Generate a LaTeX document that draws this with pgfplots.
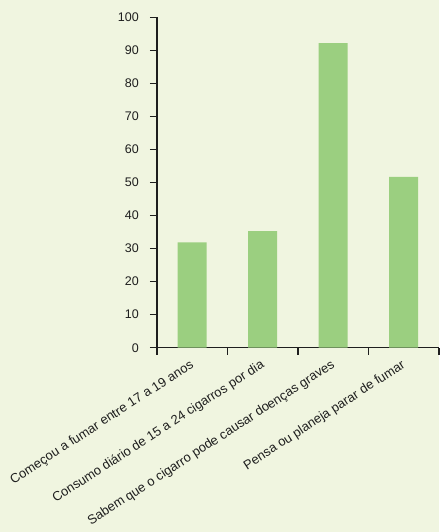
\documentclass[border=0pt]{standalone}
\usepackage{pgfplots}
\pgfplotsset{compat=1.18}
\usepackage{fontspec}
\setmainfont{Liberation Sans}
\definecolor{bg}{RGB}{240,245,224}
\definecolor{barc}{RGB}{155,207,128}
\definecolor{txt}{RGB}{30,30,30}
\begin{document}
\begin{tikzpicture}
\path[use as bounding box, fill=bg] (-157pt,-184.3pt) rectangle (282pt,347.7pt);
\begin{axis}[
  at={(0,0)}, anchor=south west,
  scale only axis, width=282pt, height=330.4pt,
  xmin=0, xmax=4, ymin=0, ymax=100,
  axis x line=bottom, axis y line=left,
  axis line style={-, line width=1.2pt, color=txt},
  tick style={line width=1.2pt, color=txt},
  tick align=outside, major tick length=7pt,
  xtick={0,1,2,3,4}, xticklabels={},
  extra x ticks={0.5,1.5,2.5,3.5},
  extra x tick labels={Começou a fumar entre 17 a 19 anos, Consumo diário de 15 a 24 cigarros por dia, Sabem que o cigarro pode causar doenças graves, Pensa ou planeja parar de fumar},
  extra x tick style={major tick length=0pt,
    tick label style={xshift=-3pt, yshift=-11pt, rotate=33, anchor=north east, inner sep=0pt, font=\fontsize{13}{15}\selectfont}},
  ytick={0,10,...,100},
  yticklabel style={anchor=east, inner sep=0pt, xshift=-11pt, font=\fontsize{12.5}{14}\selectfont},
  tick label style={text=txt},
  /pgf/number format/assume math mode=true,
  clip=false,
]
\addplot[ybar, bar width=29pt, fill=barc, draw=none] coordinates {(0.5,31.9) (1.5,35.3) (2.5,92.2) (3.5,51.7)};
\end{axis}
\end{tikzpicture}
\end{document}
